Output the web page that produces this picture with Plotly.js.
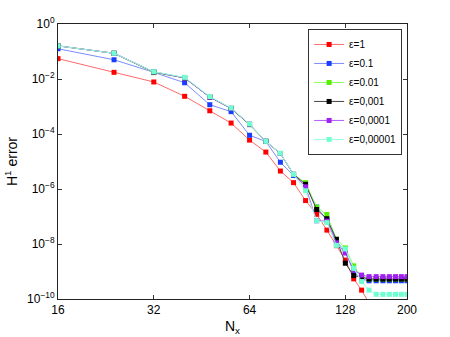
<!DOCTYPE html>
<html>
<head>
<meta charset="utf-8">
<script src="https://cdn.plot.ly/plotly-3.0.1.min.js"></script>
<style>
  html, body { margin: 0; padding: 0; background: #fff; }
  #chart { width: 450px; height: 337px; }
</style>
</head>
<body>
<div id="chart"></div>
<script>
// grid sizes
const nx = [16, 24, 32, 40, 48, 56, 64, 72, 80, 88, 96, 104, 112, 120, 128, 136, 144, 152, 160, 168, 176, 184, 192, 200];

// H1 error for each epsilon
const errEps1 = [5.5e-2, 1.75e-2, 7.8e-3, 2.35e-3, 7.0e-4, 2.5e-4, 6.0e-5, 2.2e-5, 4.5e-6, 1.7e-6, 3.8e-7, 1.2e-7, 3.2e-8, 8.7e-9, 2.6e-9, 5.4e-10, 2.1e-10, 7e-11];
const errEps01 = [0.126, 0.050, 0.0175, 7.3e-3, 1.16e-3, 6.5e-4, 9e-5, 5.4e-5, 9.4e-6, 3.1e-6, 1.3e-6, 2.2e-7, 7.4e-8, 1.3e-8, 5.1e-9, 9.6e-10, 5.3e-10, 4.6e-10, 4.6e-10, 4.6e-10, 4.6e-10, 4.6e-10, 4.6e-10, 4.6e-10];
const errEps001 = [0.16, 0.086, 0.017, 0.011, 2.2e-3, 8.5e-4, 2.2e-4, 5.4e-5, 1.95e-5, 3.4e-6, 1.7e-6, 2.2e-7, 1.18e-7, 1.5e-8, 7.2e-9, 1.6e-9, 6.3e-10, 5.3e-10, 5.3e-10, 5.3e-10, 5.3e-10, 5.3e-10, 5.3e-10, 5.3e-10];
const errEps0001 = [0.16, 0.086, 0.018, 0.011, 2.2e-3, 8.5e-4, 2.2e-4, 5.4e-5, 1.95e-5, 3.4e-6, 1.48e-6, 1.8e-7, 8.3e-8, 1.48e-8, 2.0e-9, 7.1e-10, 6.3e-10, 5.3e-10, 5.3e-10, 5.3e-10, 5.3e-10, 5.3e-10, 5.3e-10, 5.3e-10];
const errEps00001 = [0.16, 0.086, 0.018, 0.011, 2.2e-3, 8.6e-4, 2.3e-4, 5.4e-5, 1.95e-5, 3.4e-6, 1.2e-6, 7e-8, 6.8e-8, 1.1e-8, 4.7e-9, 1.13e-9, 7.4e-10, 6.5e-10, 6.5e-10, 6.5e-10, 6.5e-10, 6.5e-10, 6.5e-10, 6.5e-10];
const errEps000001 = [0.16, 0.086, 0.0185, 0.0115, 2.3e-3, 8.8e-4, 2.3e-4, 5.4e-5, 2.0e-5, 3.4e-6, 8.6e-7, 7e-8, 6e-8, 8.9e-9, 6.6e-9, 1.3e-9, 4.3e-10, 2.1e-10, 1.48e-10, 1.48e-10, 1.48e-10, 1.48e-10, 1.48e-10, 1.48e-10];

const seriesNames = ["ε=1", "ε=0.1", "ε=0.01", "ε=0,001", "ε=0,0001", "ε=0,00001"];
const seriesData = [errEps1, errEps01, errEps001, errEps0001, errEps00001, errEps000001];
const lineColors = ["#ff6a6a", "#7a8cff", "#8cff5a", "#444444", "#b25cff", "#9affdf"];
const markerColors = ["#ff0000", "#1a3cff", "#55ee00", "#000000", "#a020f0", "#70ffd0"];

const yTickVals = [1, 1e-2, 1e-4, 1e-6, 1e-8, 1e-10];
const yTickText = ["10<sup>0</sup>", "10<sup>−2</sup>", "10<sup>−4</sup>", "10<sup>−6</sup>", "10<sup>−8</sup>", "10<sup>−10</sup>"];
const xTickVals = [16, 32, 64, 128, 200];

const traces = seriesData.map((ys, i) => ({
  x: nx.slice(0, ys.length),
  y: ys,
  name: seriesNames[i],
  type: "scatter",
  mode: "lines+markers",
  line: { color: lineColors[i], width: 1 },
  marker: { color: markerColors[i], symbol: "square", size: 5 },
}));

const layout = {
  width: 450,
  height: 337,
  margin: { l: 58, r: 43, t: 24, b: 38 },
  paper_bgcolor: "#fff",
  plot_bgcolor: "#fff",
  font: { family: "Liberation Sans, Arial, sans-serif", size: 12, color: "#000" },
  showlegend: true,
  legend: {
    x: 0.986, y: 0.982, xanchor: "right", yanchor: "top",
    bgcolor: "#fff", bordercolor: "#333", borderwidth: 1,
    font: { size: 10 }, tracegroupgap: 0, itemwidth: 30,
  },
  xaxis: {
    type: "log",
    range: [Math.log10(16), Math.log10(200)],
    tickvals: xTickVals,
    ticktext: xTickVals.map(String),
    ticks: "inside", ticklen: 4, tickcolor: "#333",
    showline: true, linecolor: "#222", mirror: "ticks",
    showgrid: false, zeroline: false,
    title: { text: "N<sub>x</sub>", standoff: 4 },
  },
  yaxis: {
    type: "log",
    range: [-10, 0],
    tickvals: yTickVals,
    ticktext: yTickText,
    ticks: "inside", ticklen: 4, tickcolor: "#333",
    showline: true, linecolor: "#222", mirror: "ticks",
    showgrid: false, zeroline: false,
    title: { text: "H<sup>1</sup> error", standoff: 6 },
  },
};

Plotly.newPlot("chart", traces, layout, { displayModeBar: false, staticPlot: true });
</script>
</body>
</html>
